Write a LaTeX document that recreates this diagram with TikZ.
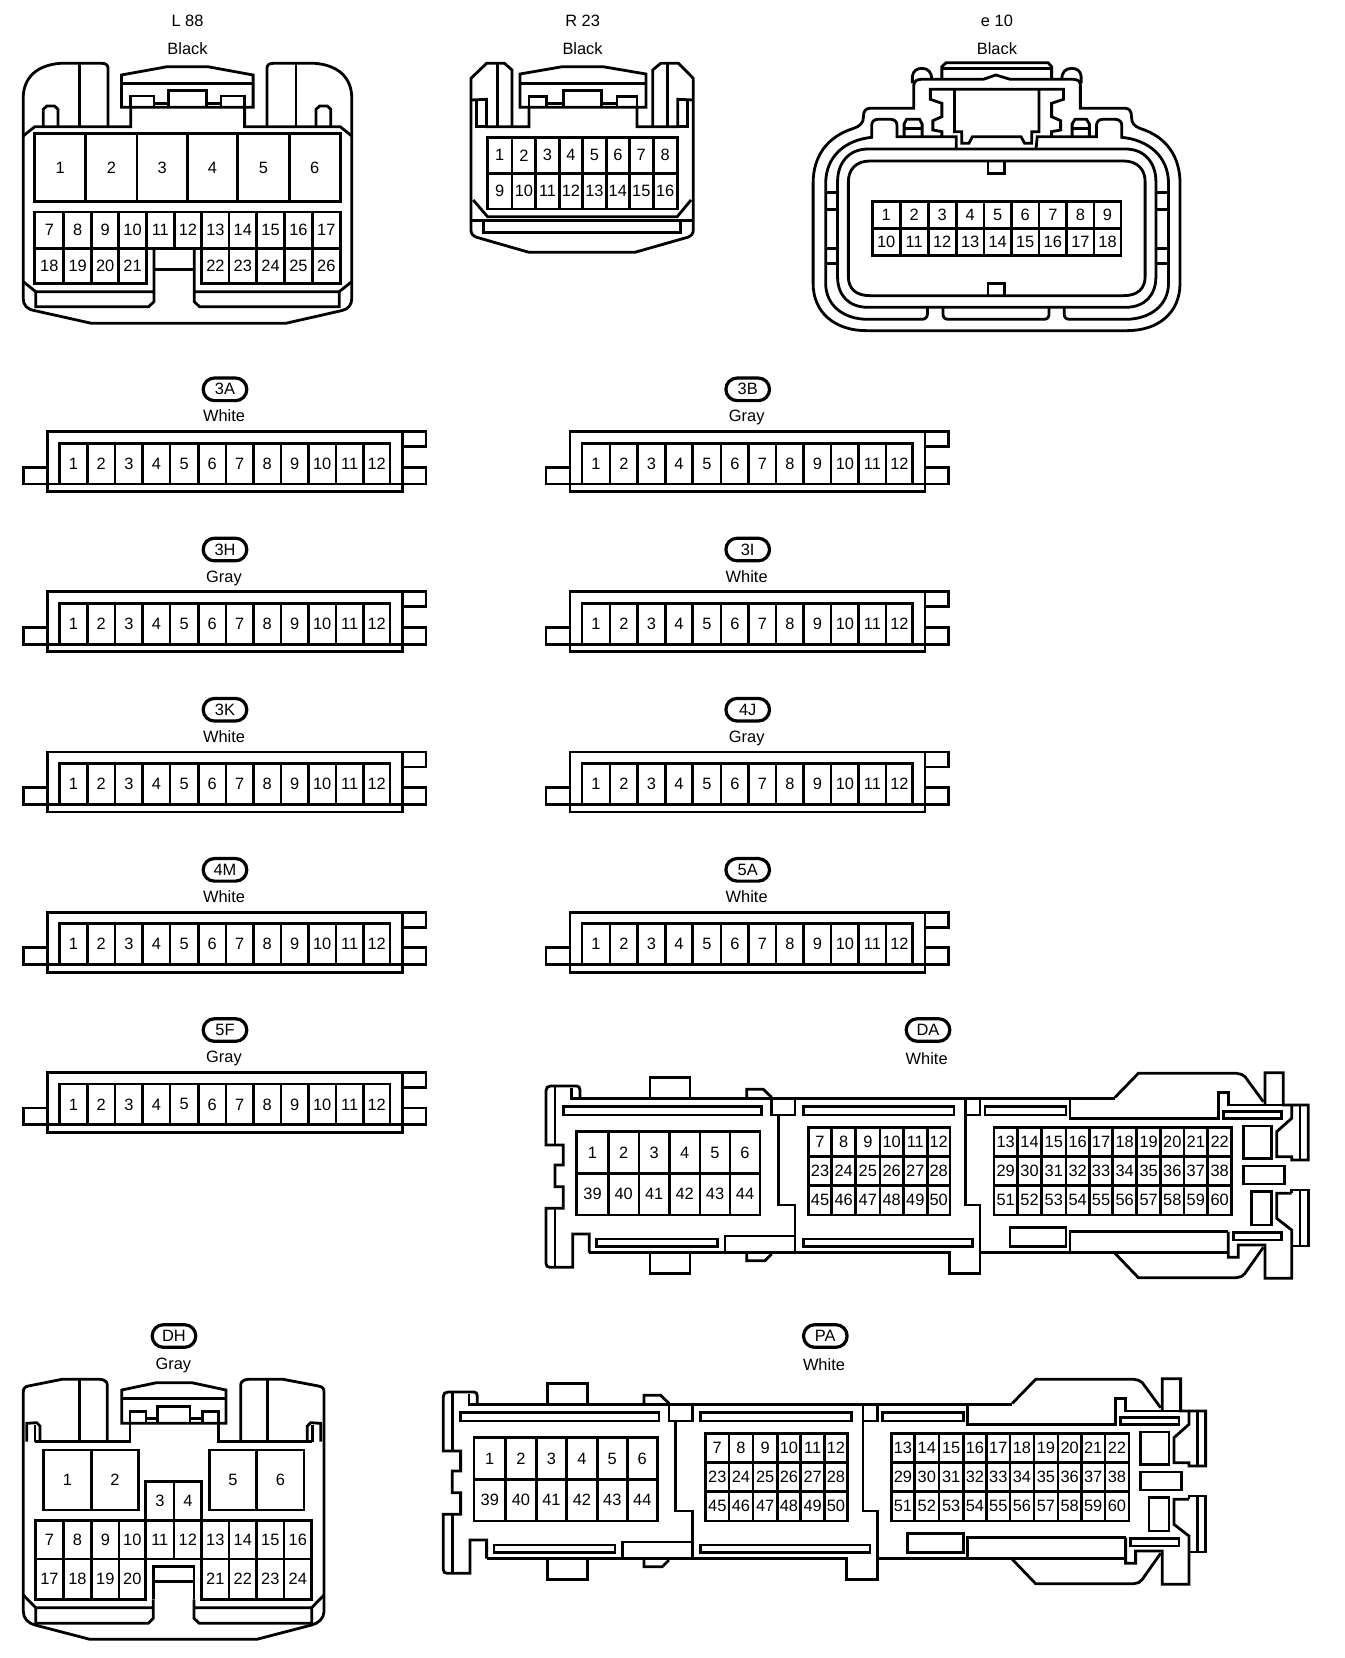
\documentclass[tikz,border=0pt]{standalone}
\usepackage{fontspec}
\setmainfont{Liberation Sans}

\tikzset{
	shell/.style={line width=1.4pt, line join=miter},
	pinbox/.style={line width=1.4pt},
	pin/.style={inner sep=0pt, font=\fontsize{8.2}{9}\selectfont},
	tagpill/.style={draw, line width=1.6pt, rounded corners=5.6pt, minimum width=21.8pt, minimum height=11.3pt, inner sep=0pt, font=\fontsize{8.2}{9}\selectfont},
	tagtext/.style={inner sep=0pt, text height=5.9pt, text depth=0pt, font=\fontsize{8.2}{9}\selectfont}
}

% one row of pin cells: prefix, top, bottom, first pin, left edge, other edges
\newcommand{\pincells}[6]{
	\foreach \xb [remember=\xb as \xa (initially #5), count=\i from #4] in {#6} {
		\draw[pinbox] (\xa,#2) rectangle (\xb,#3);
		\node[pin] (#1\i) at ({(\xa+\xb)/2},{(#2+#3)/2}) {\i};
	}
}

\begin{document}
\begin{tikzpicture}[x=0.5pt, y=-0.5pt]
	\useasboundingbox (0,0) rectangle (1344,1658);

	% L 88 and R 23
	\begin{scope}[xscale=1/2.24, yscale=1/3]
		\node[tagtext] (nameL) at (420,62) {L 88};
		\node[tagtext] (colL) at (420,145) {Black};
		\node[tagtext] (nameR) at (1305,62) {R 23};
		\node[tagtext] (colR) at (1305,145) {Black};

		% L 88 shell
		\draw[shell] (242,380) -- (242,205) .. controls (242,195) and (237,190) .. (228,190) -- (135,190) .. controls (85,195) and (52,230) .. (52,295) -- (52,895) .. controls (52,915) and (60,928) .. (78,932) -- (205,970) -- (640,970) -- (765,932) .. controls (780,928) and (788,915) .. (788,895) -- (788,295) .. controls (788,230) and (755,195) .. (705,190) -- (612,190) .. controls (603,190) and (598,195) .. (598,205) -- (598,380);
		\draw[shell] (178,190) -- (178,380);
		\draw[shell] (663,190) -- (663,380);
		\draw[shell] (52,408) -- (78,380) -- (293,380) -- (293,322);
		\draw[shell] (97,380) -- (97,328) -- (105,318) -- (122,318) -- (130,328) -- (130,380);
		\draw[shell] (788,408) -- (762,380) -- (548,380) -- (548,322);
		\draw[shell] (708,380) -- (708,328) -- (716,318) -- (733,318) -- (741,328) -- (741,380);
		\draw[shell] (272,322) -- (272,225) -- (375,200) -- (465,200) -- (567,225) -- (567,322) -- cycle;
		\draw[shell] (272,250) -- (567,250);
		\draw[shell] (293,322) -- (293,288) -- (345,288) -- (345,320);
		\draw[shell] (345,310) -- (378,310);
		\draw[shell] (378,320) -- (378,272) -- (462,272) -- (462,320);
		\draw[shell] (462,310) -- (495,310);
		\draw[shell] (495,320) -- (495,288) -- (548,288) -- (548,322);
		\draw[shell] (345,745) -- (345,905) -- (333,920) -- (80,920) -- (80,875) -- (345,875);
		\draw[shell] (435,745) -- (435,905) -- (447,920) -- (760,920) -- (760,875) -- (435,875);
		\draw[shell] (345,808) -- (435,808);
		\draw[shell] (52,845) -- (80,875);
		\draw[shell] (788,845) -- (760,875);

		% L 88 pins
		\pincells{L}{400}{605}{1}{78}{192,307,420,532,648,762}
		\pincells{L}{636}{745}{7}{78}{143,205,266,328,390,452,513,575,637,700,762}
		\pincells{L}{745}{850}{18}{78}{143,205,266,328}
		\pincells{L}{745}{850}{22}{452}{513,575,637,700,762}

		% R 23 shell
		\draw[shell] (1147,380) -- (1147,210) -- (1130,190) -- (1090,190) -- (1055,235) -- (1055,690) .. controls (1055,702) and (1060,708) .. (1068,712) -- (1185,757) -- (1422,757) -- (1540,712) .. controls (1548,708) and (1553,702) .. (1553,690) -- (1553,235) -- (1520,190) -- (1480,190) -- (1462,210) -- (1462,380);
		\draw[shell] (1115,190) -- (1115,380);
		\draw[shell] (1495,190) -- (1495,380);
		\draw[shell] (1055,300) -- (1090,298) -- (1090,380) -- (1185,380) -- (1185,322);
		\draw[shell] (1068,300) -- (1068,380) -- (1090,380);
		\draw[shell] (1553,300) -- (1518,298) -- (1518,380) -- (1427,380) -- (1427,322);
		\draw[shell] (1540,300) -- (1540,380) -- (1518,380);
		\draw[shell] (1165,322) -- (1165,222) -- (1260,200) -- (1350,200) -- (1447,222) -- (1447,322) -- cycle;
		\draw[shell] (1165,250) -- (1447,250);
		\draw[shell] (1185,322) -- (1185,290) -- (1225,290) -- (1225,320);
		\draw[shell] (1225,310) -- (1262,310);
		\draw[shell] (1262,320) -- (1262,272) -- (1347,272) -- (1347,320);
		\draw[shell] (1347,310) -- (1382,310);
		\draw[shell] (1382,320) -- (1382,290) -- (1427,290) -- (1427,322);
		\draw[shell] (1060,600) -- (1092,650) -- (1517,650) -- (1548,600);
		\draw[shell] (1055,662) -- (1553,662);
		\draw[shell] (1083,662) -- (1083,697) -- (1525,697) -- (1525,662);

		% R 23 pins
		\pincells{R}{412}{520}{1}{1092}{1147,1200,1253,1305,1358,1410,1463,1517}
		\pincells{R}{520}{627}{9}{1092}{1147,1200,1253,1305,1358,1410,1463,1517}
	\end{scope}

	% e 10
	\begin{scope}[shift={(780,0)}, xscale=1/2.78, yscale=1/3]
		\node[tagtext] (nameE) at (603,62) {e 10};
		\node[tagtext] (colE) at (603,145) {Black};

		% outer shell
		\draw[shell] (372,325) -- (372,255) .. controls (372,245) and (380,238) .. (392,238) -- (565,238) -- (600,225) -- (640,238) -- (815,238) .. controls (828,238) and (835,245) .. (835,255) -- (835,325) -- (960,325) .. controls (972,325) and (977,335) .. (977,350) .. controls (977,370) and (985,378) .. (1000,385) .. controls (1075,410) and (1112,470) .. (1112,550) -- (1112,850) .. controls (1112,940) and (1050,992) .. (965,992) -- (240,992) .. controls (155,992) and (92,940) .. (92,850) -- (92,550) .. controls (92,470) and (130,410) .. (205,385) .. controls (222,378) and (232,370) .. (232,350) .. controls (232,335) and (237,325) .. (250,325) -- cycle;
		\draw[shell] (490,445) -- (490,410) -- (325,410) -- (325,375) .. controls (325,365) and (318,358) .. (308,358) -- (272,358) .. controls (262,358) and (255,365) .. (255,375) -- (255,412) .. controls (180,420) and (127,470) .. (127,550) -- (127,850) .. controls (127,915) and (175,958) .. (245,958) -- (395,958) .. controls (405,958) and (410,950) .. (410,940) -- (410,922);
		\draw[shell] (453,922) -- (453,942) .. controls (453,952) and (458,958) .. (468,958) -- (733,958) .. controls (743,958) and (748,952) .. (748,942) -- (748,922);
		\draw[shell] (790,922) -- (790,942) .. controls (790,952) and (795,958) .. (805,958) -- (960,958) .. controls (1030,958) and (1080,915) .. (1080,850) -- (1080,550) .. controls (1080,470) and (1025,420) .. (950,412) -- (950,375) .. controls (950,365) and (942,358) .. (932,358) -- (897,358) .. controls (887,358) and (880,365) .. (880,375) -- (880,410) -- (715,410) -- (712,445);
		\draw[shell] (245,447) -- (960,447) .. controls (1015,447) and (1045,490) .. (1045,545) -- (1045,830) .. controls (1045,885) and (1015,922) .. (960,922) -- (245,922) .. controls (190,922) and (160,885) .. (160,830) -- (160,545) .. controls (160,490) and (190,447) .. (245,447) -- cycle;
		\draw[shell] (250,483) -- (955,483) .. controls (995,483) and (1015,510) .. (1015,545) -- (1015,830) .. controls (1015,865) and (995,887) .. (955,887) -- (250,887) .. controls (210,887) and (190,865) .. (190,830) -- (190,545) .. controls (190,510) and (210,483) .. (250,483) -- cycle;
		\draw[shell] (578,483) -- (578,520) -- (625,520) -- (625,483);
		\draw[shell] (578,887) -- (578,850) -- (625,850) -- (625,887);

		% side ribs
		\foreach \y in {578,628,745,790} {
			\draw[shell] (127,\y) -- (160,\y);
			\draw[shell] (1045,\y) -- (1080,\y);
		}

		% top latch
		\draw[shell] (450,238) -- (450,200) -- (462,188) -- (745,188) -- (755,200) -- (755,238);
		\draw[shell] (450,205) -- (755,205);
		\draw[shell] (368,250) -- (368,228) .. controls (370,212) and (382,205) .. (395,205) .. controls (412,205) and (422,218) .. (422,238);
		\draw[shell] (783,238) .. controls (783,218) and (793,205) .. (810,205) .. controls (825,205) and (835,212) .. (837,228) -- (837,250);
		\draw[shell] (450,410) -- (450,395) -- (425,390) -- (425,362) -- (450,350) -- (450,310) -- (418,298) -- (418,268) -- (788,268) -- (788,298) -- (755,310) -- (755,350) -- (780,362) -- (780,390) -- (755,395) -- (755,410);
		\draw[shell] (485,268) -- (485,395) -- (505,395) -- (505,430) -- (525,430) -- (535,410) -- (670,410) -- (680,430) -- (700,430) -- (700,395) -- (720,395) -- (720,268);
		\draw[shell] (345,410) -- (345,372) -- (352,358) -- (388,358) -- (395,372) -- (395,410);
		\draw[shell] (345,385) -- (395,385);
		\draw[shell] (812,410) -- (812,372) -- (820,358) -- (852,358) -- (860,372) -- (860,410);
		\draw[shell] (812,385) -- (860,385);

		% pins
		\pincells{E}{604}{685}{1}{256}{334,412,490,567,643,720,797,873,948}
		\pincells{E}{685}{767}{10}{256}{334,412,490,567,643,720,797,873,948}
	\end{scope}

	% the nine 12 pin plugs
	\foreach \nm/\sx/\sy/\col in {3A/0/0/White, 3B/522.7/0/Gray, 3H/0/160.2/Gray, 3I/522.7/160.2/White, 3K/0/320.4/White, 4J/522.7/320.4/Gray, 4M/0/480.5/White, 5A/522.7/480.5/White, 5F/0/640.7/Gray} {
		\begin{scope}[shift={(\sx,370+\sy)}, scale=1/3]
			\node[tagpill] (tag\nm) at (675,58) {\nm};
			\node[tagtext] (col\nm) at (672,138) {\col};
			\draw[shell] (1207,342) -- (1207,365) -- (142,365) -- (142,185) -- (1207,185) -- (1207,342);
			\draw[shell] (142,342) -- (1207,342);
			\draw[shell] (1207,185) -- (1278,185) -- (1278,230) -- (1207,230);
			\draw[shell] (1207,292) -- (1278,292) -- (1278,342) -- (1207,342);
			\draw[shell] (142,292) -- (70,292) -- (70,342) -- (142,342);
			\pincells{\nm p}{220}{342}{1}{178}{262,345,428,510,595,678,760,843,925,1008,1090,1170}
		\end{scope}
	}

	% DA and PA are the same housing
	\foreach \nm/\sx/\sy in {DA/0/0, PA/-102.7/306} {
		\begin{scope}[shift={(530+\sx,1010+\sy)}, scale=1/3]
			\node[tagpill] (tag\nm) at (1194,60) {\nm};
			\node[tagtext] (col\nm) at (1190,145) {White};

			% left end
			\draw[shell] (150,265) -- (150,240) .. controls (150,232) and (146,228) .. (140,228) -- (62,228) .. controls (53,228) and (48,233) .. (48,242) -- (48,405) -- (100,405) -- (100,465) -- (75,465) -- (75,530) -- (100,530) -- (100,595) -- (48,595) -- (48,760) .. controls (48,768) and (52,772) .. (60,772) -- (128,772) -- (128,672) -- (178,672) -- (178,728);
			\draw[shell] (75,228) -- (75,405);
			\draw[shell] (75,595) -- (75,772);
			\draw[shell] (125,235) -- (125,265) -- (1755,265);
			\draw[shell] (178,728) -- (1258,728) -- (1258,790) -- (1350,790) -- (1350,585) -- (1307,585) -- (1307,265);
			\draw[shell] (1350,728) -- (2095,728);

			% tabs and hooks
			\draw[shell] (360,265) -- (360,203) -- (480,203) -- (480,265);
			\draw[shell] (360,728) -- (360,790) -- (480,790) -- (480,728);
			\draw[shell] (650,262) -- (650,238) -- (700,238) -- (725,262);
			\draw[shell] (650,728) -- (650,752) -- (705,752) -- (725,732);

			% slots
			\draw[shell] (100,290) rectangle (695,315);
			\draw[shell] (725,265) -- (725,315) -- (795,315) -- (795,265);
			\draw[shell] (745,315) -- (745,585) -- (795,585) -- (795,728);
			\draw[shell] (820,290) rectangle (1272,315);
			\draw[shell] (1307,315) -- (1350,315) -- (1350,265);
			\draw[shell] (200,687) rectangle (563,710);
			\draw[shell] (585,728) -- (585,678) -- (795,678);
			\draw[shell] (820,687) rectangle (1328,710);
			\draw[shell] (1365,290) rectangle (1608,315);

			% right end
			\draw[shell] (1620,265) -- (1620,325) -- (2065,325) -- (2065,248) -- (2095,248) -- (2095,285) -- (2285,285);
			\draw[shell] (1755,262) -- (1825,190) -- (2120,190) .. controls (2130,190) and (2140,195) .. (2145,200) -- (2200,275);
			\draw[shell] (2205,285) -- (2205,188) -- (2260,188) -- (2260,285) -- (2335,285) -- (2335,450) -- (2285,450) -- (2285,440) -- (2240,440) -- (2240,365) -- (2285,325) -- (2285,285);
			\draw[shell] (2310,285) -- (2310,450);
			\draw[shell] (2080,305) rectangle (2255,325);
			\draw[shell] (2140,348) rectangle (2225,445);
			\draw[shell] (2140,468) rectangle (2263,522);
			\draw[shell] (2165,545) rectangle (2225,645);
			\draw[shell] (2285,550) -- (2285,540) -- (2335,540) -- (2335,708) -- (2285,708);
			\draw[shell] (2310,540) -- (2310,708);
			\draw[shell] (2285,550) -- (2240,550) -- (2240,625) -- (2285,660) -- (2285,805) -- (2205,805) -- (2205,705) -- (2125,705) -- (2125,742) -- (2095,742) -- (2095,665);
			\draw[shell] (2095,665) -- (1620,665) -- (1620,728);
			\draw[shell] (2110,668) rectangle (2255,690);
			\draw[shell] (1440,652) rectangle (1608,710);
			\draw[shell] (1755,730) -- (1825,803) -- (2120,803) .. controls (2130,803) and (2140,798) .. (2145,790) -- (2200,712);

			% pins
			\pincells{\nm p}{365}{490}{1}{140}{235,327,418,510,600,690}
			\pincells{\nm p}{490}{615}{39}{140}{235,327,418,510,600,690}
			\pincells{\nm p}{352}{440}{7}{835}{905,977,1050,1120,1192,1260}
			\pincells{\nm p}{440}{527}{23}{835}{905,977,1050,1120,1192,1260}
			\pincells{\nm p}{527}{615}{45}{835}{905,977,1050,1120,1192,1260}
			\pincells{\nm p}{352}{440}{13}{1392}{1462,1535,1608,1678,1748,1820,1892,1962,2033,2105}
			\pincells{\nm p}{440}{527}{29}{1392}{1462,1535,1608,1678,1748,1820,1892,1962,2033,2105}
			\pincells{\nm p}{527}{615}{51}{1392}{1462,1535,1608,1678,1748,1820,1892,1962,2033,2105}
		\end{scope}
	}

	% DH
	\begin{scope}[shift={(0,1310)}, scale=1/3]
		\node[tagpill] (tagDH) at (522,78) {DH};
		\node[tagtext] (colDH) at (520,160) {Gray};

		% shell
		\draw[shell] (322,395) -- (322,225) .. controls (322,215) and (312,208) .. (300,208) -- (185,208) -- (85,228) .. controls (75,230) and (70,235) .. (70,245) -- (70,905) .. controls (70,925) and (85,940) .. (105,945) -- (270,988) -- (770,988) -- (935,945) .. controls (955,940) and (972,925) .. (972,905) -- (972,245) .. controls (972,235) and (967,230) .. (955,228) -- (850,208) -- (745,208) .. controls (732,208) and (722,215) .. (722,225) -- (722,395);
		\draw[shell] (238,208) -- (238,395);
		\draw[shell] (803,208) -- (803,395);
		\draw[shell] (105,395) -- (390,395) -- (390,340);
		\draw[shell] (655,340) -- (655,395) -- (935,395);
		\draw[shell] (80,395) -- (80,340) -- (110,338) -- (120,348) -- (120,395);
		\draw[shell] (105,345) -- (105,395);
		\draw[shell] (962,395) -- (962,340) -- (932,338) -- (922,348) -- (922,395);
		\draw[shell] (937,345) -- (937,395);
		\draw[shell] (365,340) -- (365,240) -- (470,218) -- (575,218) -- (678,240) -- (678,340) -- cycle;
		\draw[shell] (365,265) -- (678,265);
		\draw[shell] (390,340) -- (390,305) -- (438,305) -- (438,338);
		\draw[shell] (438,325) -- (472,325);
		\draw[shell] (472,338) -- (472,290) -- (570,290) -- (570,338);
		\draw[shell] (570,325) -- (607,325);
		\draw[shell] (607,338) -- (607,305) -- (655,305) -- (655,340);
		\draw[shell] (460,868) -- (460,925) -- (445,940) -- (107,940) -- (107,893) -- (460,893);
		\draw[shell] (582,868) -- (582,925) -- (598,940) -- (935,940) -- (935,893) -- (582,893);
		\draw[shell] (460,868) -- (460,770) -- (582,770) -- (582,868);
		\draw[shell] (460,815) -- (582,815);
		\draw[shell] (70,855) -- (107,893);
		\draw[shell] (972,855) -- (935,893);

		% pins
		\pincells{H}{420}{600}{1}{130}{275,415}
		\pincells{H}{515}{632}{3}{437}{522,605}
		\pincells{H}{420}{600}{5}{628}{770,912}
		\pincells{H}{632}{747}{7}{107}{190,275,357,437,522,605,687,770,852,935}
		\pincells{H}{747}{868}{17}{107}{190,275,357,437}
		\pincells{H}{747}{868}{21}{605}{687,770,852,935}
	\end{scope}
\end{tikzpicture}
\end{document}
